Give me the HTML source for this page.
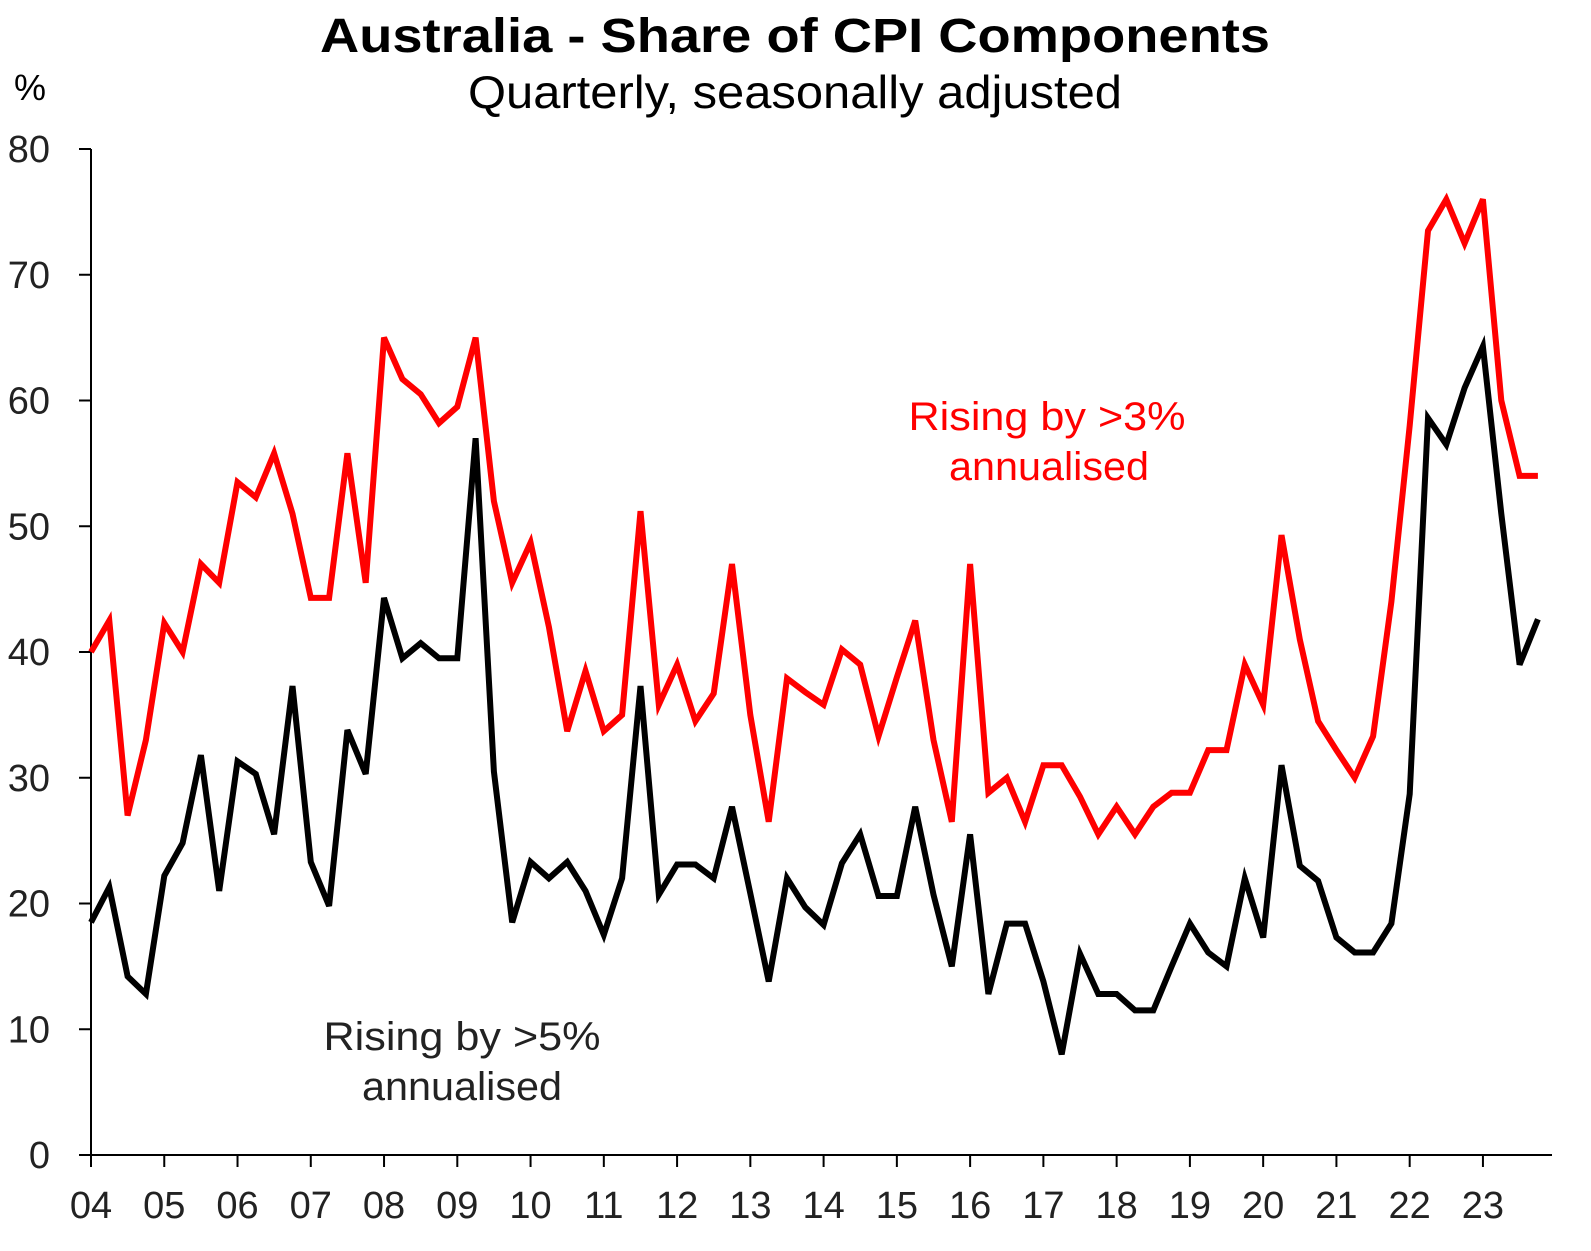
<!DOCTYPE html>
<html><head><meta charset="utf-8"><style>
body{margin:0;background:#fff;}
svg text{font-family:"Liberation Sans",Arial,sans-serif;}
</style></head><body>
<svg id="chart" width="1591" height="1246" xmlns="http://www.w3.org/2000/svg">
<text x="795" y="52" text-anchor="middle" font-size="48" font-weight="bold" textLength="950" lengthAdjust="spacingAndGlyphs">Australia - Share of CPI Components</text>
<text x="795" y="108" text-anchor="middle" font-size="46" textLength="654" lengthAdjust="spacingAndGlyphs">Quarterly,  seasonally adjusted</text>
<text x="30" y="100" text-anchor="middle" font-size="36">%</text>
<g id="axes"></g>
<g id="series"></g>
<text x="1047" y="430" text-anchor="middle" font-size="40" fill="#ff0000" textLength="277" lengthAdjust="spacingAndGlyphs">Rising by &gt;3%</text>
<text x="1049" y="480" text-anchor="middle" font-size="40" fill="#ff0000" textLength="200" lengthAdjust="spacingAndGlyphs">annualised</text>
<text x="462" y="1050" text-anchor="middle" font-size="40" fill="#222" textLength="277" lengthAdjust="spacingAndGlyphs">Rising by &gt;5%</text>
<text x="462" y="1100" text-anchor="middle" font-size="40" fill="#222" textLength="200" lengthAdjust="spacingAndGlyphs">annualised</text>
</svg>
<script>
const yearLabels=["04","05","06","07","08","09","10","11","12","13","14","15","16","17","18","19","20","21","22","23"];
const yTicks=[0,10,20,30,40,50,60,70,80];
const rising3=[40,42.5,27,33,42.3,40,47,45.5,53.5,52.3,55.8,51,44.3,44.3,55.8,45.5,65,61.7,60.5,58.2,59.5,65,52,45.5,48.7,42,33.7,38.5,33.7,35,51.2,35.8,39,34.5,36.7,47,35,26.5,37.9,36.8,35.8,40.2,39,33.3,38,42.5,33,26.5,47,28.8,30,26.5,31,31,28.5,25.5,27.7,25.5,27.7,28.8,28.8,32.2,32.2,39,35.8,49.3,41,34.5,32.2,30,33.3,44,58,73.5,76,72.5,76,60,54,54];
const rising5=[18.5,21.3,14.2,12.8,22.2,24.8,31.8,21,31.3,30.3,25.5,37.3,23.3,19.8,33.8,30.3,44.3,39.5,40.7,39.5,39.5,57,30.5,18.5,23.3,22,23.3,21,17.5,22,37.3,20.7,23.1,23.1,22,27.7,20.8,13.8,22,19.7,18.3,23.2,25.5,20.6,20.6,27.7,20.7,15,25.5,12.8,18.4,18.4,13.8,8,16,12.8,12.8,11.5,11.5,15,18.4,16.1,15,22,17.3,31,23,21.8,17.3,16.1,16.1,18.4,28.7,58.6,56.5,61,64.3,51,39,42.6];

const NS="http://www.w3.org/2000/svg";
const x0=91,yearW=73.26,yBase=1155,yTop=149,yMax=80;
const xq=i=>x0+i*yearW/4;
const yv=v=>yBase-(v/yMax)*(yBase-yTop);
const axes=document.getElementById('axes');
function mk(tag,attrs,parent){const e=document.createElementNS(NS,tag);for(const k in attrs)e.setAttribute(k,attrs[k]);parent.appendChild(e);return e;}
let yl=mk('line',{x1:x0,y1:yTop,x2:x0,y2:yBase,stroke:'#000','stroke-width':2},axes);


let xl=mk('line',{x1:x0,y1:yBase,x2:1552,y2:yBase,stroke:'#000','stroke-width':2},axes);


yTicks.forEach(v=>{
  const t=mk('line',{x1:x0-12,y1:yv(v),x2:x0,y2:yv(v),stroke:'#000','stroke-width':2},axes);
  
  
  const l=mk('text',{x:50,y:yv(v)+13,'text-anchor':'end','font-size':38,fill:'#222'},axes);
  l.textContent=v;
  
  
});
yearLabels.forEach((lab,i)=>{
  const x=x0+i*yearW;
  const t=mk('line',{x1:x,y1:yBase,x2:x,y2:yBase+12,stroke:'#000','stroke-width':2},axes);
  
  
  const l=mk('text',{x:x,y:1218,'text-anchor':'middle','font-size':38,fill:'#222'},axes);
  l.textContent=lab;
  
  
});
const series=document.getElementById('series');
function line(data,color,name){
  const p=mk('polyline',{points:data.map((v,i)=>xq(i).toFixed(1)+','+yv(v).toFixed(1)).join(' '),fill:'none',stroke:color,'stroke-width':6,'stroke-linejoin':'miter'},series);
  
  
}
line(rising3,'#ff0000','rising-3pct-line');
line(rising5,'#000000','rising-5pct-line');
</script>
</body></html>
